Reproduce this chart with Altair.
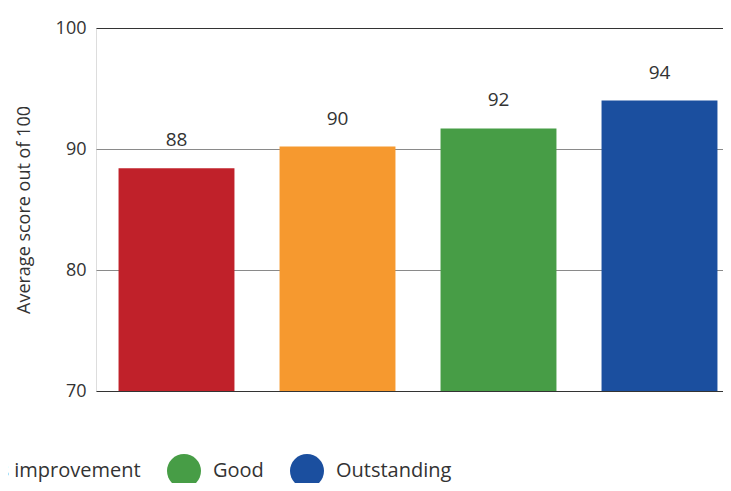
import altair as alt
import pandas as pd

categories = ["Inadequate", "Requires improvement", "Good", "Outstanding"]
scores = [88.4, 90.2, 91.7, 94.0]
score_labels = ["88", "90", "92", "94"]
colors = ["#C0212A", "#F6992F", "#479D46", "#1B4F9F"]
y_ticks = [70, 80, 90, 100]

df = pd.DataFrame({"category": categories, "score": scores, "label": score_labels})

FONT = "Open Sans"
TXT = "#333333"

x_enc = alt.X(
    "category:N",
    sort=categories,
    axis=None,
    scale=alt.Scale(range=[0, 644], paddingInner=0.28, paddingOuter=0.14),
)
y_scale = alt.Scale(domain=[70, 100], nice=False, zero=False)

bars = alt.Chart(df).mark_bar().encode(
    x=x_enc,
    y=alt.Y(
        "score:Q",
        scale=y_scale,
        axis=alt.Axis(
            values=y_ticks,
            title="Average score out of 100",
            titleFont=FONT,
            titleFontSize=18,
            titleFontWeight="normal",
            titleColor=TXT,
            titlePadding=22,
            labelFont=FONT,
            labelFontSize=18,
            labelColor=TXT,
            labelPadding=10,
            domain=False,
            ticks=False,
            grid=True,
            gridColor={
                "condition": {"test": "datum.value == 80 || datum.value == 90", "value": "#8a8a8a"},
                "value": "#333333",
            },
            gridWidth=1,
        ),
    ),
    y2=alt.Y2(datum=70),
    color=alt.Color(
        "category:N",
        sort=categories,
        scale=alt.Scale(domain=categories, range=colors),
        legend=alt.Legend(
            title=None,
            orient="none",
            legendX=-394,
            legendY=426,
            direction="horizontal",
            columns=4,
            symbolType="circle",
            symbolSize=1156,
            symbolStrokeWidth=0,
            symbolOpacity=1,
            labelFont=FONT,
            labelFontSize=20,
            labelColor=TXT,
            labelOffset=12,
            labelLimit=0,
            columnPadding=26,
            padding=0,
            offset=0,
        ),
    ),
)

text = alt.Chart(df).mark_text(
    font=FONT, fontSize=19, color=TXT, baseline="alphabetic", dy=-22
).encode(
    x=x_enc,
    y=alt.Y("score:Q", scale=y_scale),
    text="label:N",
)

chart = alt.layer(bars, text).properties(
    width=627,
    height=363,
    autosize=alt.AutoSizeParams(type="none"),
    padding={"left": 88, "top": 20, "right": 0, "bottom": 92},
).configure_view(stroke=None).configure(background="white")

chart.save("out.html", embed_options={"renderer": "svg", "actions": False})
